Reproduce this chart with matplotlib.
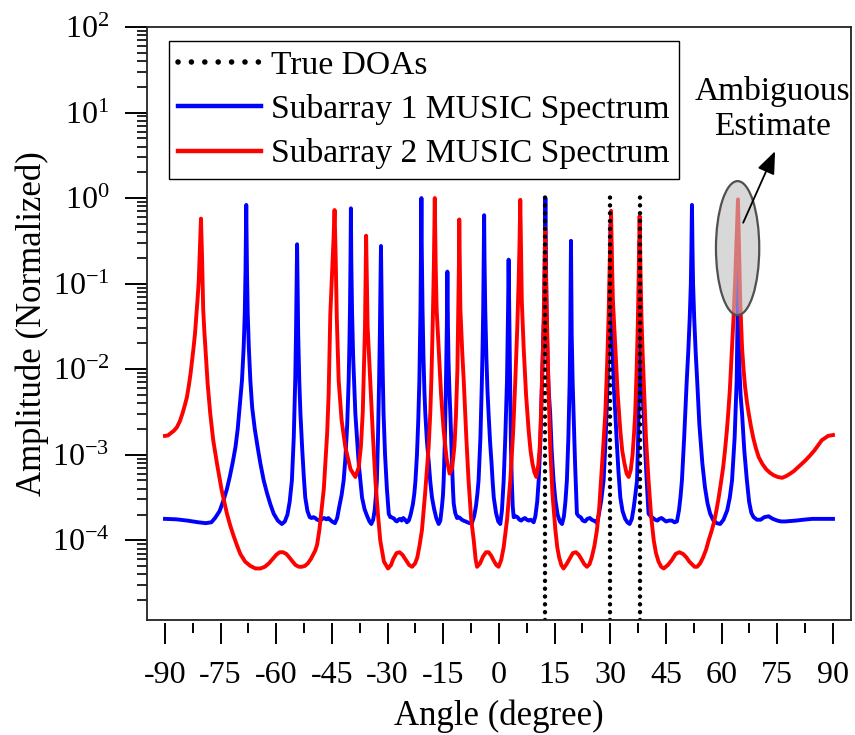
import numpy as np
import matplotlib
matplotlib.use("Agg")
import matplotlib.pyplot as plt
from matplotlib.patches import Ellipse
from matplotlib.lines import Line2D
from matplotlib.ticker import FixedLocator, LogLocator, NullFormatter, FixedFormatter

plt.rcParams['font.family'] = ['Liberation Serif', 'DejaVu Serif']
plt.rcParams['mathtext.fontset'] = 'custom'
plt.rcParams['mathtext.rm'] = 'Liberation Serif'
plt.rcParams['mathtext.it'] = 'Liberation Serif:italic'
plt.rcParams['mathtext.bf'] = 'Liberation Serif:bold'

# ---------------- data ----------------
# Subarray 1 MUSIC spectrum: (angle in degrees, log10 of normalized amplitude)
sub1_points = [
    (-90.0, -3.75), (-87.0, -3.755), (-84.0, -3.77), (-81.0, -3.79), (-79.0, -3.80), (-77.5, -3.79),
    (-76.5, -3.74), (-75.3, -3.66), (-74.2, -3.53), (-73.3, -3.40), (-72.5, -3.25), (-71.7, -3.08),
    (-71.0, -2.91), (-70.4, -2.70), (-69.9, -2.45), (-69.25, -2.13), (-68.8, -1.75), (-68.5, -1.35),
    (-68.3, -0.85), (-68.1, -0.08), (-67.9, -0.85), (-67.7, -1.35), (-67.4, -1.75), (-67.0, -2.13),
    (-66.5, -2.45), (-65.8, -2.70), (-65.0, -2.92), (-64.3, -3.10), (-63.4, -3.30), (-62.5, -3.45),
    (-61.6, -3.58), (-60.7, -3.69), (-59.6, -3.77), (-58.5, -3.81), (-57.7, -3.78), (-57.0, -3.70),
    (-56.4, -3.55), (-55.8, -3.30), (-55.3, -2.80), (-54.9, -2.13), (-54.7, -1.60), (-54.55, -1.10),
    (-54.4, -0.54), (-54.25, -1.10), (-54.1, -1.60), (-53.8, -2.15), (-53.5, -2.52), (-53.0, -2.95),
    (-52.6, -3.25), (-52.2, -3.50), (-51.6, -3.66), (-51.0, -3.73), (-50.5, -3.74), (-50.0, -3.73),
    (-49.5, -3.74), (-49.0, -3.76), (-48.2, -3.77), (-47.6, -3.75), (-47.1, -3.74), (-46.5, -3.755),
    (-46.0, -3.74), (-45.5, -3.76), (-45.0, -3.78), (-44.2, -3.80), (-43.6, -3.74), (-43.0, -3.60),
    (-42.4, -3.47), (-41.85, -3.30), (-41.4, -3.05), (-40.9, -2.65), (-40.5, -2.13), (-40.3, -1.70),
    (-40.15, -1.30), (-40.0, -0.70), (-39.9, -0.12), (-39.8, -0.70), (-39.6, -1.30), (-39.3, -1.85),
    (-39.0, -2.20), (-38.7, -2.52), (-38.2, -2.85), (-37.8, -3.10), (-37.3, -3.32), (-36.9, -3.50),
    (-36.2, -3.64), (-35.5, -3.72), (-34.9, -3.78), (-34.4, -3.81), (-33.9, -3.76), (-33.5, -3.65),
    (-33.2, -3.50), (-32.9, -3.30), (-32.6, -2.80), (-32.3, -2.13), (-32.1, -1.60), (-31.95, -1.10),
    (-31.8, -0.56), (-31.65, -1.10), (-31.5, -1.60), (-31.3, -2.10), (-31.1, -2.52), (-30.7, -3.00),
    (-30.2, -3.40), (-29.7, -3.69), (-29.3, -3.73), (-29.0, -3.73), (-28.6, -3.74), (-28.3, -3.745),
    (-27.9, -3.77), (-27.5, -3.78), (-27.1, -3.76), (-26.7, -3.75), (-26.2, -3.77), (-25.8, -3.74),
    (-25.3, -3.76), (-24.8, -3.79), (-24.3, -3.77), (-23.8, -3.70), (-23.2, -3.58), (-22.8, -3.45),
    (-22.5, -3.30), (-22.1, -3.00), (-21.75, -2.60), (-21.45, -2.13), (-21.3, -1.75), (-21.15, -1.30),
    (-21.0, -0.60), (-20.9, 0.00), (-20.8, -0.60), (-20.6, -1.30), (-20.35, -1.85), (-20.1, -2.25),
    (-19.85, -2.52), (-19.4, -2.85), (-18.9, -3.10), (-18.5, -3.32), (-18.05, -3.50), (-17.5, -3.63),
    (-16.9, -3.74), (-16.25, -3.81), (-15.8, -3.77), (-15.4, -3.62), (-15.1, -3.48), (-14.9, -3.30),
    (-14.6, -2.85), (-14.3, -2.20), (-14.15, -1.80), (-14.05, -1.50), (-13.9, -0.86), (-13.75, -1.50),
    (-13.6, -1.90), (-13.35, -2.25), (-13.1, -2.52), (-12.7, -3.05), (-12.4, -3.40), (-12.2, -3.57),
    (-11.8, -3.68), (-11.3, -3.74), (-10.9, -3.73), (-10.5, -3.74), (-10.0, -3.76), (-9.6, -3.77),
    (-9.0, -3.78), (-8.5, -3.79), (-7.9, -3.80), (-7.3, -3.80), (-6.7, -3.72), (-6.2, -3.60),
    (-5.8, -3.45), (-5.5, -3.30), (-5.0, -2.80), (-4.6, -2.13), (-4.4, -1.70), (-4.25, -1.30),
    (-4.1, -0.70), (-4.0, -0.20), (-3.9, -0.70), (-3.7, -1.30), (-3.4, -1.85), (-3.1, -2.25),
    (-2.8, -2.52), (-2.4, -2.85), (-2.0, -3.10), (-1.7, -3.32), (-1.4, -3.50), (-0.8, -3.68),
    (-0.2, -3.78), (0.35, -3.81), (0.8, -3.65), (1.27, -3.30), (1.7, -2.80), (2.16, -2.13),
    (2.3, -1.75), (2.45, -1.30), (2.6, -0.72), (2.75, -1.30), (2.9, -1.80), (3.05, -2.30),
    (3.23, -2.91), (3.45, -3.30), (3.7, -3.60), (3.96, -3.73), (4.5, -3.72), (5.0, -3.73),
    (5.5, -3.76), (6.0, -3.77), (6.5, -3.75), (7.0, -3.74), (7.5, -3.76), (8.0, -3.77),
    (8.6, -3.76), (9.35, -3.79), (9.8, -3.72), (10.3, -3.55), (10.7, -3.30), (11.2, -2.80),
    (11.6, -2.13), (11.95, -1.60), (12.2, -1.30), (12.35, -0.70), (12.5, 0.00), (12.65, -0.70),
    (12.8, -1.30), (13.1, -1.90), (13.4, -2.25), (13.8, -2.52), (14.2, -2.95), (14.7, -3.30),
    (15.2, -3.53), (15.8, -3.70), (16.4, -3.78), (17.0, -3.81), (17.5, -3.72), (17.9, -3.55),
    (18.3, -3.30), (18.7, -2.80), (19.05, -2.13), (19.2, -1.60), (19.3, -1.10), (19.4, -0.50),
    (19.5, -1.10), (19.6, -1.60), (19.85, -2.15), (20.1, -2.52), (20.5, -3.10), (21.0, -3.69),
    (21.5, -3.72), (22.0, -3.73), (22.6, -3.77), (23.2, -3.78), (23.8, -3.75), (24.5, -3.74),
    (25.0, -3.76), (25.5, -3.77), (26.0, -3.78), (26.4, -3.80), (26.9, -3.70), (27.5, -3.55),
    (28.2, -3.30), (28.8, -2.75), (29.3, -2.13), (29.6, -1.65), (29.8, -1.30), (30.0, -0.60),
    (30.1, -0.30), (30.25, -0.60), (30.4, -1.30), (30.7, -1.90), (31.0, -2.25), (31.35, -2.52),
    (31.8, -2.90), (32.2, -3.20), (32.7, -3.50), (33.3, -3.66), (34.0, -3.75), (34.6, -3.79),
    (35.2, -3.81), (35.8, -3.75), (36.3, -3.62), (36.8, -3.45), (37.2, -3.30), (37.5, -2.80),
    (37.7, -2.13), (37.8, -1.40), (37.9, -0.50), (38.0, -1.30), (38.3, -2.00), (38.6, -2.25),
    (39.0, -2.52), (39.4, -2.95), (39.8, -3.30), (40.3, -3.69), (40.9, -3.72), (41.5, -3.74),
    (42.1, -3.76), (42.7, -3.77), (43.2, -3.75), (43.8, -3.74), (44.4, -3.76), (45.0, -3.78),
    (45.8, -3.77), (46.6, -3.77), (47.3, -3.79), (47.95, -3.78), (48.5, -3.65), (48.9, -3.50),
    (49.3, -3.30), (49.9, -2.80), (50.6, -2.13), (51.0, -1.80), (51.4, -1.40), (51.7, -1.00),
    (51.85, -0.60), (52.0, -0.08), (52.15, -0.60), (52.3, -1.00), (52.6, -1.40), (53.0, -1.80),
    (53.4, -2.13), (54.0, -2.65), (54.8, -3.10), (55.5, -3.38), (56.2, -3.57), (56.9, -3.69),
    (57.8, -3.77), (58.7, -3.80), (59.6, -3.81), (60.5, -3.76), (61.5, -3.65), (62.2, -3.50),
    (62.8, -3.30), (63.5, -2.80), (64.05, -2.13), (64.25, -1.50), (64.4, -0.80), (64.55, -1.50),
    (64.8, -2.00), (65.1, -2.30), (65.5, -2.52), (66.1, -2.95), (66.8, -3.30), (67.4, -3.55),
    (68.0, -3.68), (68.6, -3.73), (69.5, -3.76), (70.5, -3.76), (71.5, -3.73), (72.65, -3.72),
    (73.8, -3.75), (75.0, -3.77), (76.0, -3.78), (77.15, -3.78), (78.5, -3.775), (80.0, -3.77),
    (82.0, -3.76), (84.35, -3.75), (87.0, -3.75), (90.0, -3.75),
]

# Subarray 2 MUSIC spectrum: (angle in degrees, log10 of normalized amplitude)
sub2_points = [
    (-90.0, -2.78), (-89.2, -2.775), (-88.5, -2.75), (-87.6, -2.72), (-86.8, -2.68), (-86.0, -2.61),
    (-85.3, -2.52), (-84.7, -2.43), (-84.1, -2.33), (-83.6, -2.20), (-83.1, -2.05), (-82.7, -1.90),
    (-82.3, -1.75), (-81.9, -1.58), (-81.5, -1.35), (-81.2, -1.17), (-80.9, -0.97), (-80.6, -0.60),
    (-80.3, -0.24), (-80.0, -0.70), (-79.7, -1.30), (-79.4, -1.55), (-79.1, -1.75), (-78.5, -2.17),
    (-77.8, -2.52), (-77.0, -2.83), (-76.0, -3.10), (-74.7, -3.42), (-73.3, -3.69), (-72.4, -3.83),
    (-71.5, -3.95), (-70.6, -4.06), (-69.7, -4.16), (-68.4, -4.25), (-67.0, -4.30), (-65.6, -4.33),
    (-64.3, -4.33), (-63.1, -4.31), (-62.0, -4.27), (-61.0, -4.22), (-60.0, -4.17), (-59.1, -4.14),
    (-58.2, -4.14), (-57.3, -4.16), (-56.5, -4.20), (-55.6, -4.25), (-54.8, -4.29), (-53.9, -4.31),
    (-53.1, -4.31), (-52.3, -4.30), (-51.5, -4.27), (-50.7, -4.22), (-50.0, -4.16), (-49.5, -4.12),
    (-49.0, -4.05), (-48.4, -3.88), (-47.7, -3.60), (-47.2, -3.40), (-46.7, -3.05), (-46.3, -2.75),
    (-45.9, -2.30), (-45.45, -1.36), (-45.0, -0.90), (-44.6, -0.50), (-44.3, -0.14), (-44.0, -0.70),
    (-43.7, -1.40), (-43.2, -2.13), (-42.4, -2.60), (-41.4, -2.91), (-40.0, -3.17), (-38.7, -3.26),
    (-37.8, -3.15), (-37.2, -2.90), (-36.7, -2.50), (-36.4, -2.00), (-36.1, -1.50), (-35.95, -1.00),
    (-35.8, -0.44), (-35.6, -1.00), (-35.4, -1.50), (-34.7, -2.13), (-34.0, -2.75), (-33.3, -3.30),
    (-32.6, -3.70), (-32.0, -4.00), (-31.0, -4.25), (-29.9, -4.33), (-29.1, -4.29), (-28.5, -4.22),
    (-27.6, -4.15), (-26.8, -4.14), (-26.0, -4.17), (-25.1, -4.23), (-24.2, -4.29), (-23.4, -4.31),
    (-22.6, -4.27), (-22.0, -4.20), (-21.4, -4.06), (-20.75, -3.88), (-19.9, -3.45), (-18.95, -2.91),
    (-18.5, -2.50), (-18.2, -2.10), (-17.8, -1.36), (-17.55, -0.80), (-17.3, 0.00), (-17.05, -0.80),
    (-16.8, -1.30), (-16.25, -1.75), (-15.6, -2.30), (-14.9, -2.72), (-14.1, -3.05), (-13.3, -3.22),
    (-12.6, -3.15), (-12.0, -2.90), (-11.6, -2.55), (-11.2, -2.00), (-10.95, -1.30), (-10.8, -0.80),
    (-10.7, -0.25), (-10.55, -0.80), (-10.4, -1.30), (-9.9, -1.80), (-9.5, -2.13), (-8.8, -2.80),
    (-8.2, -3.30), (-7.5, -3.75), (-6.8, -4.00), (-6.3, -4.22), (-5.9, -4.31), (-5.1, -4.27),
    (-4.3, -4.19), (-3.5, -4.14), (-2.8, -4.14), (-2.1, -4.18), (-1.4, -4.24), (-0.7, -4.29),
    (-0.1, -4.31), (0.6, -4.23), (1.27, -4.08), (2.2, -3.75), (3.05, -3.30), (3.8, -2.75),
    (4.4, -2.13), (4.9, -1.55), (5.3, -0.97), (5.55, -0.50), (5.74, -0.02), (5.95, -0.60),
    (6.15, -1.20), (6.65, -1.75), (7.3, -2.30), (8.0, -2.72), (8.5, -2.95), (9.0, -3.10),
    (9.5, -3.20), (10.05, -3.26), (10.6, -3.12), (11.0, -2.90), (11.3, -2.55), (11.6, -2.13),
    (11.9, -1.70), (12.1, -1.30), (12.3, -0.80), (12.45, -0.35), (12.6, -0.80), (12.9, -1.40),
    (13.3, -2.15), (13.8, -2.91), (14.4, -3.45), (15.2, -3.88), (15.7, -4.08), (16.2, -4.20),
    (16.8, -4.29), (17.4, -4.33), (18.2, -4.28), (19.0, -4.22), (19.9, -4.15), (20.75, -4.14),
    (21.5, -4.17), (22.2, -4.22), (23.0, -4.28), (23.7, -4.31), (24.4, -4.28), (25.0, -4.20),
    (25.7, -4.07), (26.4, -3.88), (27.0, -3.63), (27.5, -3.30), (28.1, -2.90), (28.65, -2.52),
    (29.1, -2.00), (29.55, -1.36), (29.85, -0.75), (30.2, -0.15), (30.45, -0.75), (30.7, -1.20),
    (31.35, -1.75), (32.0, -2.30), (32.7, -2.72), (33.2, -2.95), (33.8, -3.10), (34.4, -3.22),
    (34.95, -3.26), (35.5, -3.18), (36.0, -3.00), (36.4, -2.75), (36.7, -2.52), (37.1, -2.00),
    (37.4, -1.50), (37.65, -0.90), (37.9, -0.21), (38.15, -0.90), (38.4, -1.40), (38.7, -1.80),
    (39.0, -2.13), (39.6, -2.80), (40.3, -3.30), (41.0, -3.72), (41.7, -4.00), (42.3, -4.15),
    (43.0, -4.25), (43.7, -4.31), (44.4, -4.33), (45.5, -4.29), (46.6, -4.23), (47.6, -4.16),
    (48.6, -4.14), (49.6, -4.16), (50.5, -4.20), (51.3, -4.25), (52.0, -4.28), (52.7, -4.31),
    (53.4, -4.31), (54.2, -4.27), (55.0, -4.20), (55.8, -4.11), (56.5, -4.00), (57.3, -3.89),
    (58.0, -3.78), (58.6, -3.65), (59.2, -3.50), (59.8, -3.33), (60.4, -3.15), (60.9, -2.95),
    (61.4, -2.72), (61.8, -2.50), (62.2, -2.25), (62.5, -2.00), (62.8, -1.75), (63.2, -1.40),
    (63.6, -1.00), (64.0, -0.50), (64.4, -0.015), (64.7, -0.60), (65.0, -1.20), (65.5, -1.75),
    (65.9, -2.00), (66.3, -2.20), (66.8, -2.38), (67.3, -2.52), (67.9, -2.67), (68.5, -2.80),
    (69.2, -2.92), (70.0, -3.03), (71.0, -3.11), (72.0, -3.17), (73.0, -3.21), (74.0, -3.24),
    (75.1, -3.26), (76.3, -3.27), (77.4, -3.25), (78.5, -3.22), (79.5, -3.19), (80.5, -3.15),
    (81.5, -3.11), (82.5, -3.07), (83.8, -3.01), (85.0, -2.95), (86.0, -2.89), (87.0, -2.83),
    (88.0, -2.80), (88.7, -2.78), (89.4, -2.775), (90.0, -2.77),
]

true_doas = [12.5, 30.0, 38.0]
doa_top = 1.2

xtick_vals = [-90, -75, -60, -45, -30, -15, 0, 15, 30, 45, 60, 75, 90]
xtick_labels = ["-90", "-75", "-60", "-45", "-30", "-15", "0", "15", "30", "45", "60", "75", "90"]
xminor_vals = [-82.5, -67.5, -52.5, -37.5, -22.5, -7.5, 7.5, 22.5, 37.5, 52.5, 67.5, 82.5]
ytick_vals = [1e-4, 1e-3, 1e-2, 1e-1, 1e0, 1e1, 1e2]
ytick_labels = [r"$\mathregular{10^{-4}}$", r"$\mathregular{10^{-3}}$", r"$\mathregular{10^{-2}}$",
                r"$\mathregular{10^{-1}}$", r"$\mathregular{10^{0}}$", r"$\mathregular{10^{1}}$",
                r"$\mathregular{10^{2}}$"]

legend_labels = ["True DOAs", "Subarray 1 MUSIC Spectrum", "Subarray 2 MUSIC Spectrum"]
annot_text = "Ambiguous\nEstimate"

sub1_angle, sub1_log = zip(*sub1_points)
sub2_angle, sub2_log = zip(*sub2_points)

# ---------------- figure ----------------
fig = plt.figure(figsize=(8.55, 7.35), dpi=100)
ax = fig.add_axes([0.1719, 0.1565, 0.8234, 0.8068])

YMIN, YMAX = 1.17e-5, 100
ax.set_yscale('log')
ax.set_xlim(-94.85, 94.85)
ax.set_ylim(YMIN, YMAX)

blue = '#0000ff'
red = '#ff0000'
l1, = ax.plot(sub1_angle, 10 ** np.array(sub1_log), color=blue, lw=2.8, zorder=2,
              solid_joinstyle='round')
l2, = ax.plot(sub2_angle, 10 ** np.array(sub2_log), color=red, lw=2.8, zorder=3,
              solid_joinstyle='round')
vl = ax.vlines(true_doas, YMIN, doa_top, colors='k', linestyles=[(0, (0.01, 1.75))],
               linewidth=3.2, zorder=4)
vl.set_capstyle('round')

# ticks
ax.xaxis.set_major_locator(FixedLocator(xtick_vals))
ax.xaxis.set_major_formatter(FixedFormatter(xtick_labels))
ax.xaxis.set_minor_locator(FixedLocator(xminor_vals))
ax.yaxis.set_major_locator(FixedLocator(ytick_vals))
ax.yaxis.set_major_formatter(FixedFormatter(ytick_labels))
ax.yaxis.set_minor_locator(LogLocator(base=10, subs=np.arange(2, 10), numticks=20))
ax.yaxis.set_minor_formatter(NullFormatter())

ax.tick_params(axis='both', which='major', direction='out', width=1.4, color='k',
               labelsize=23)
ax.tick_params(axis='x', which='major', length=15, pad=12)
ax.tick_params(axis='x', which='minor', direction='out', length=7, width=1.4)
ax.tick_params(axis='y', which='major', length=16, pad=11)
ax.tick_params(axis='y', which='minor', direction='out', length=7.5, width=1.2)
ax.tick_params(top=False, right=False, which='both')

for s in ['top', 'right', 'left']:
    ax.spines[s].set_linewidth(1.3)
    ax.spines[s].set_color('#222222')
ax.spines['bottom'].set_position(('outward', 2.5))
ax.spines['bottom'].set_visible(False)
ax.add_line(Line2D([0, 1], [0, 0], transform=ax.transAxes, color='#222222', lw=1.3,
                   clip_on=False, zorder=10))

ax.set_xlabel("Angle (degree)", fontsize=25, labelpad=7)
ax.set_ylabel("Amplitude (Normalized)", fontsize=25, labelpad=2)

# legend
dot_handle = Line2D([], [], color='k', lw=4.0, linestyle=(0, (0.01, 2.4)),
                    dash_capstyle='round')
leg = ax.legend([dot_handle, l1, l2], legend_labels, loc='upper left',
                bbox_to_anchor=(0.031, 0.977), borderaxespad=0, frameon=True,
                fancybox=False, edgecolor='k', framealpha=1, fontsize=24.2,
                handlelength=2.45, handletextpad=0.3, labelspacing=0.4,
                borderpad=0.28)
leg.get_frame().set_linewidth(1.0)
for h in leg.get_lines():
    h.set_linewidth(3.2)
leg.get_lines()[0].set_linewidth(4.0)

# ambiguous estimate highlight
fig.canvas.draw()
cx, cy = ax.transAxes.inverted().transform(ax.transData.transform((64.3, 0.26)))
ell = Ellipse((cx, cy), width=0.0615, height=0.226, transform=ax.transAxes,
              facecolor=(0.757, 0.757, 0.757, 0.62), edgecolor='#505050', lw=1.6, zorder=5)
ax.add_patch(ell)
ax.annotate('', xy=(74.4, 3.53), xytext=(65.8, 0.515),
            arrowprops=dict(arrowstyle='-|>,head_length=0.55,head_width=0.22', color='k',
                            lw=1.3, mutation_scale=25, shrinkA=0, shrinkB=0), zorder=6)
ax.text(73.6, 10.9, annot_text, ha='center', va='center', fontsize=24, linespacing=1.2,
        zorder=6)

fig.savefig('out.png', dpi=100)
